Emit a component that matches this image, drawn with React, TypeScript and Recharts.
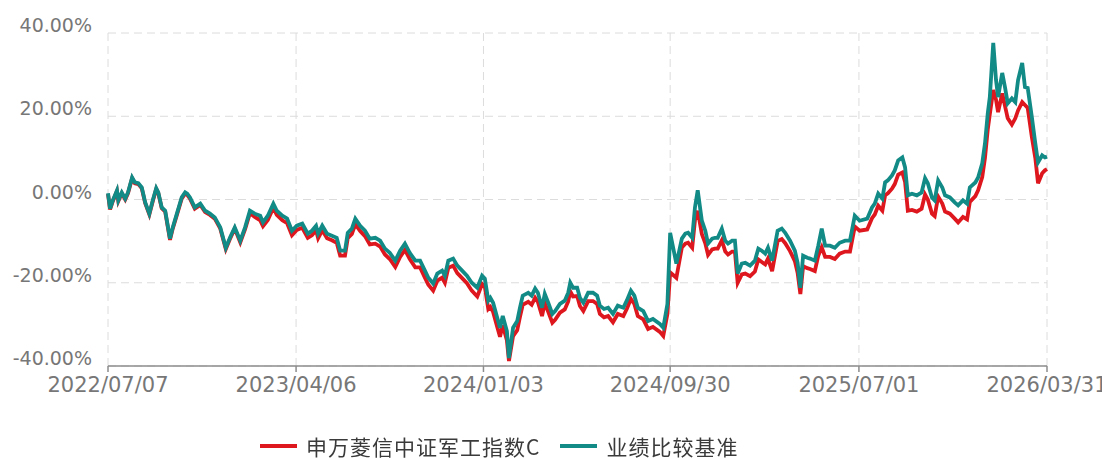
import { LineChart, Line, XAxis, YAxis, CartesianGrid } from "recharts";

// 日期 / 申万菱信中证军工指数C / 业绩比较基准 (累计收益率, %)
const dates = [
  "2022/07/07", "2022/07/10", "2022/07/14", "2022/07/20", "2022/07/22", "2022/07/27", "2022/08/01", "2022/08/05",
  "2022/08/11", "2022/08/15", "2022/08/20", "2022/08/25", "2022/08/30", "2022/09/05", "2022/09/10", "2022/09/15",
  "2022/09/18", "2022/09/23", "2022/09/28", "2022/10/05", "2022/10/09", "2022/10/15", "2022/10/22", "2022/10/27",
  "2022/10/30", "2022/11/03", "2022/11/10", "2022/11/18", "2022/11/25", "2022/12/02", "2022/12/09", "2022/12/17",
  "2022/12/25", "2022/12/31", "2023/01/07", "2023/01/15", "2023/01/22", "2023/01/29", "2023/02/05", "2023/02/13",
  "2023/02/17", "2023/02/24", "2023/03/04", "2023/03/09", "2023/03/17", "2023/03/24", "2023/03/31", "2023/04/07",
  "2023/04/15", "2023/04/23", "2023/04/29", "2023/05/05", "2023/05/08", "2023/05/14", "2023/05/21", "2023/05/28",
  "2023/06/04", "2023/06/09", "2023/06/16", "2023/06/20", "2023/06/26", "2023/07/01", "2023/07/08", "2023/07/15",
  "2023/07/22", "2023/07/30", "2023/08/06", "2023/08/13", "2023/08/20", "2023/08/28", "2023/09/04", "2023/09/11",
  "2023/09/18", "2023/09/26", "2023/10/03", "2023/10/10", "2023/10/15", "2023/10/22", "2023/10/28", "2023/11/04",
  "2023/11/08", "2023/11/13", "2023/11/20", "2023/11/26", "2023/12/03", "2023/12/10", "2023/12/17", "2023/12/25",
  "2024/01/01", "2024/01/05", "2024/01/10", "2024/01/13", "2024/01/17", "2024/01/23", "2024/01/27", "2024/01/31",
  "2024/02/06", "2024/02/09", "2024/02/15", "2024/02/21", "2024/02/25", "2024/02/29", "2024/03/08", "2024/03/13",
  "2024/03/18", "2024/03/22", "2024/03/28", "2024/04/01", "2024/04/06", "2024/04/12", "2024/04/16", "2024/04/23",
  "2024/04/30", "2024/05/05", "2024/05/08", "2024/05/12", "2024/05/18", "2024/05/22", "2024/05/27", "2024/06/03",
  "2024/06/10", "2024/06/16", "2024/06/20", "2024/06/26", "2024/07/02", "2024/07/09", "2024/07/16", "2024/07/24",
  "2024/07/29", "2024/08/04", "2024/08/09", "2024/08/14", "2024/08/22", "2024/08/29", "2024/09/05", "2024/09/15",
  "2024/09/20", "2024/09/26", "2024/09/30", "2024/10/09", "2024/10/11", "2024/10/17", "2024/10/22", "2024/10/26",
  "2024/11/01", "2024/11/05", "2024/11/09", "2024/11/15", "2024/11/20", "2024/11/24", "2024/11/30", "2024/12/04",
  "2024/12/08", "2024/12/14", "2024/12/19", "2024/12/23", "2024/12/29", "2025/01/02", "2025/01/06", "2025/01/12",
  "2025/01/17", "2025/01/24", "2025/01/31", "2025/02/05", "2025/02/10", "2025/02/15", "2025/02/19", "2025/02/25",
  "2025/03/01", "2025/03/05", "2025/03/11", "2025/03/16", "2025/03/23", "2025/03/30", "2025/04/03", "2025/04/07",
  "2025/04/11", "2025/04/17", "2025/04/21", "2025/04/28", "2025/05/03", "2025/05/08", "2025/05/13", "2025/05/20",
  "2025/05/27", "2025/06/03", "2025/06/11", "2025/06/18", "2025/06/25", "2025/07/02", "2025/07/13", "2025/07/20",
  "2025/07/24", "2025/07/29", "2025/08/04", "2025/08/08", "2025/08/12", "2025/08/18", "2025/08/22", "2025/08/27",
  "2025/09/02", "2025/09/06", "2025/09/10", "2025/09/16", "2025/09/23", "2025/09/30", "2025/10/05", "2025/10/09",
  "2025/10/15", "2025/10/19", "2025/10/24", "2025/10/30", "2025/11/03", "2025/11/10", "2025/11/17", "2025/11/22",
  "2025/11/29", "2025/12/05", "2025/12/09", "2025/12/17", "2025/12/21", "2025/12/27", "2025/12/31", "2026/01/04",
  "2026/01/07", "2026/01/12", "2026/01/16", "2026/01/19", "2026/01/25", "2026/01/29", "2026/02/02", "2026/02/08",
  "2026/02/13", "2026/02/17", "2026/02/23", "2026/02/27", "2026/03/03", "2026/03/09", "2026/03/14", "2026/03/18",
  "2026/03/24", "2026/03/28", "2026/03/31",
];

const fundReturn = [
  1.3, -2.4, -0.4, 2.0, -0.4, 1.5, 0.0, 1.5,
  5.1, 3.9, 3.7, 2.7, -0.9, -3.6, -0.4, 2.5,
  1.5, -2.1, -2.9, -9.7, -7.0, -3.7, 0.2, 1.4,
  1.1, 0.2, -2.2, -1.3, -3.0, -3.7, -4.6, -7.0,
  -11.9, -9.5, -7.0, -10.3, -7.1, -3.3, -4.2, -5.0,
  -6.4, -4.9, -2.0, -3.7, -5.0, -5.7, -8.6, -7.3,
  -6.8, -9.2, -8.6, -7.4, -9.3, -7.4, -9.3, -9.8,
  -10.4, -13.5, -13.5, -9.3, -8.3, -5.9, -7.6, -8.8,
  -10.8, -10.6, -11.3, -13.2, -14.3, -16.2, -13.8, -12.1,
  -14.3, -16.3, -16.3, -18.8, -20.5, -21.9, -19.5, -18.8,
  -20.0, -16.4, -15.9, -17.7, -18.9, -20.1, -21.9, -23.3,
  -20.3, -21.0, -26.3, -25.8, -27.0, -30.6, -33.0, -30.2,
  -33.8, -38.8, -32.8, -31.4, -28.2, -25.3, -24.6, -25.3,
  -23.6, -24.6, -28.0, -24.9, -27.0, -29.6, -28.9, -27.2,
  -26.4, -24.5, -22.1, -23.3, -23.2, -25.6, -26.8, -24.4,
  -24.4, -25.1, -27.5, -28.3, -28.0, -29.5, -27.5, -28.0,
  -26.3, -23.9, -25.1, -28.0, -28.8, -31.1, -30.6, -31.8,
  -32.8, -27.5, -17.5, -18.8, -17.0, -11.5, -10.6, -10.4,
  -11.6, -5.0, -2.7, -8.3, -10.5, -13.3, -12.0, -11.8,
  -11.8, -9.8, -12.5, -13.2, -12.5, -12.5, -20.0, -18.0,
  -17.8, -18.4, -17.3, -14.4, -15.0, -15.6, -14.2, -17.2,
  -13.6, -10.0, -9.5, -10.5, -12.4, -14.8, -17.6, -22.7,
  -16.0, -16.5, -16.7, -17.2, -13.5, -11.5, -13.8, -13.8,
  -14.3, -13.0, -12.5, -12.5, -6.5, -7.5, -7.2, -4.5,
  -3.6, -1.5, -2.7, 1.0, 1.5, 2.6, 3.7, 6.0,
  6.5, 4.2, -2.7, -2.5, -2.9, -2.2, 1.2, 0.0,
  -3.4, -4.0, 0.7, -1.0, -2.9, -3.4, -4.6, -5.5,
  -4.2, -4.8, -0.6, 0.8, 2.2, 5.4, 10.0, 16.8,
  20.5, 26.3, 24.0, 21.0, 25.5, 22.5, 19.5, 18.0,
  19.5, 21.4, 23.4, 22.7, 22.0, 15.0, 10.0, 3.9,
  6.3, 7.0, 7.3,
];

const benchReturn = [
  1.5, -2.2, -0.2, 2.2, -0.2, 1.7, 0.2, 1.7,
  5.3, 4.1, 3.9, 2.9, -0.7, -3.4, -0.2, 2.7,
  1.7, -1.9, -2.7, -9.4, -6.7, -3.4, 0.5, 1.7,
  1.4, 0.5, -1.9, -1.0, -2.7, -3.4, -4.3, -6.7,
  -11.6, -9.2, -6.7, -9.9, -6.7, -2.7, -3.4, -3.9,
  -5.5, -3.9, -1.0, -2.7, -3.9, -4.6, -7.5, -6.3,
  -5.8, -8.2, -7.5, -6.3, -8.2, -6.3, -8.2, -8.7,
  -9.2, -12.3, -12.3, -8.0, -7.0, -4.6, -6.3, -7.5,
  -9.4, -9.2, -9.9, -11.8, -12.8, -14.7, -12.3, -10.6,
  -12.8, -14.7, -14.7, -17.1, -18.8, -20.2, -17.8, -17.1,
  -18.3, -14.7, -14.2, -15.9, -17.1, -18.3, -20.0, -21.2,
  -18.3, -19.0, -24.3, -23.6, -24.8, -28.4, -30.8, -28.0,
  -31.6, -38.1, -30.8, -29.2, -26.0, -23.1, -22.4, -23.1,
  -21.4, -22.4, -26.0, -22.7, -24.8, -27.5, -26.8, -25.1,
  -24.3, -22.4, -20.0, -21.2, -21.2, -23.6, -24.8, -22.4,
  -22.4, -23.1, -25.5, -26.3, -26.0, -27.5, -25.5, -26.0,
  -24.3, -21.9, -23.1, -26.0, -26.8, -29.2, -28.7, -29.9,
  -30.8, -25.1, -8.0, -15.4, -14.0, -9.4, -8.2, -8.0,
  -9.2, -1.9, 2.2, -5.1, -7.5, -10.6, -9.4, -9.2,
  -9.2, -7.0, -9.9, -10.6, -9.9, -9.9, -17.8, -15.4,
  -15.2, -15.9, -14.7, -11.8, -12.3, -13.0, -11.6, -14.7,
  -11.1, -7.5, -7.0, -8.0, -9.9, -12.3, -15.2, -21.2,
  -13.5, -14.0, -14.2, -14.7, -11.1, -7.0, -11.1, -11.1,
  -11.6, -10.4, -9.9, -9.9, -3.9, -5.1, -4.6, -1.9,
  -1.0, 1.4, 0.2, 4.1, 4.6, 5.8, 7.0, 9.4,
  10.1, 7.7, 1.0, 1.4, 1.0, 1.7, 5.1, 3.9,
  0.5, -0.2, 4.6, 2.9, 1.0, 0.5, -0.7, -1.4,
  -0.2, -1.0, 2.9, 4.1, 5.3, 8.7, 13.5, 20.7,
  24.6, 37.6, 28.7, 24.6, 30.4, 27.0, 23.1, 24.3,
  23.4, 28.7, 32.8, 27.0, 26.8, 19.8, 13.5, 8.9,
  10.6, 10.1, 10.3,
];

const tickDates = ["2022/07/07", "2023/04/06", "2024/01/03", "2024/09/30", "2025/07/01", "2026/03/31"];
const yTicks = [-40, -20, 0, 20, 40];

const FUND_NAME = "申万菱信中证军工指数C";
const BENCH_NAME = "业绩比较基准";
const RED = "#dd171d";
const TEAL = "#128a86";

const toTime = (s: string) => {
  const [y, m, d] = s.split("/").map(Number);
  return Date.UTC(y, m - 1, d);
};

const fmtDate = (t: number) => {
  const d = new Date(t);
  const mm = String(d.getUTCMonth() + 1).padStart(2, "0");
  const dd = String(d.getUTCDate()).padStart(2, "0");
  return `${d.getUTCFullYear()}/${mm}/${dd}`;
};

const data = dates.map((d, i) => ({
  t: toTime(d),
  fund: fundReturn[i],
  bench: benchReturn[i],
}));

// eslint-disable-next-line @typescript-eslint/no-explicit-any
const YTick = ({ x, y, payload }: any) => (
  <text x={x} y={y - 1} textAnchor="end" fill="#777" fontSize={19} fontFamily="DejaVu Sans">
    {`${Number(payload.value).toFixed(2)}%`}
  </text>
);

// eslint-disable-next-line @typescript-eslint/no-explicit-any
const XTick = ({ x, y, payload }: any) => (
  <text x={x} y={y} dy="0.71em" textAnchor="middle" fill="#777" fontSize={21} fontFamily="DejaVu Sans">
    {fmtDate(payload.value)}
  </text>
);

function LegendItem({ color, label }: { color: string; label: string }) {
  return (
    <div style={{ display: "flex", alignItems: "center", marginRight: 20 }}>
      <div style={{ width: 37, height: 4, background: color, marginRight: 9 }} />
      <span style={{ whiteSpace: "nowrap" }}>{label}</span>
    </div>
  );
}

export default function App() {
  return (
    <div style={{ position: "fixed", left: 0, top: 0, width: 1102, height: 459, background: "#fff" }}>
      <LineChart width={1102} height={459} data={data} margin={{ top: 33, right: 55, left: 8, bottom: 0 }}>
        <CartesianGrid stroke="#dcdcdc" strokeDasharray="8 5" />
        <XAxis
          type="number"
          dataKey="t"
          domain={[toTime(tickDates[0]), toTime(tickDates[tickDates.length - 1])]}
          ticks={tickDates.map(toTime)}
          height={93}
          stroke="#8c8c8c"
          strokeWidth={1.5}
          tickSize={6}
          tickMargin={5}
          tick={<XTick />}
          interval={0}
        />
        <YAxis
          domain={[-40, 40]}
          ticks={yTicks}
          width={100}
          axisLine={false}
          tickLine={false}
          tickSize={0}
          tickMargin={16}
          tick={<YTick />}
          interval={0}
        />
        <Line type="linear" dataKey="fund" name={FUND_NAME} stroke={RED} strokeWidth={3.8} dot={false} isAnimationActive={false} />
        <Line type="linear" dataKey="bench" name={BENCH_NAME} stroke={TEAL} strokeWidth={3.8} dot={false} isAnimationActive={false} />
      </LineChart>
      <div
        style={{
          position: "absolute",
          left: 260,
          top: 433,
          display: "flex",
          alignItems: "center",
          fontFamily: '"Noto Sans CJK SC", sans-serif',
          fontSize: 21,
          letterSpacing: 1,
          lineHeight: "26px",
          color: "#3a3a3a",
        }}
      >
        <LegendItem color={RED} label={FUND_NAME} />
        <LegendItem color={TEAL} label={BENCH_NAME} />
      </div>
    </div>
  );
}
